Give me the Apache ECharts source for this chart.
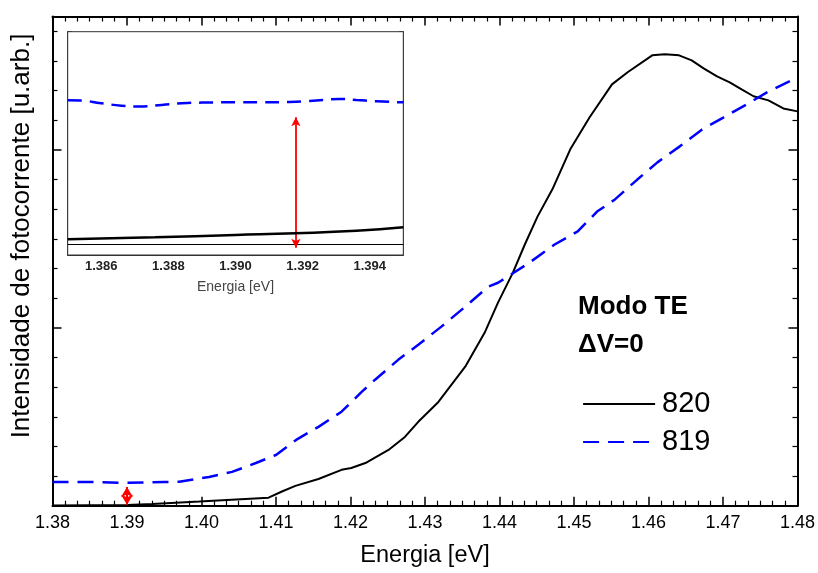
<!DOCTYPE html>
<html><head><meta charset="utf-8">
<script src="https://cdn.jsdelivr.net/npm/echarts@6/dist/echarts.min.js"></script>
<style>html,body{margin:0;padding:0;background:#fff}#c{width:818px;height:573px}</style>
</head><body><div id="c"></div>
<script>
const FONT = '"Liberation Sans", Arial, Helvetica, sans-serif';

// ---- main plot tick labels ----
const xTickLabels = ['1.38','1.39','1.40','1.41','1.42','1.43','1.44','1.45','1.46','1.47','1.48'];

// ---- sample 820 (solid black) ----
const energy820 = [1.380,1.390,1.3934,1.3997,1.4090,1.4108,1.4126,1.4157,1.4188,1.4201,1.4220,1.4251,1.4273,1.4291,1.4318,1.4354,1.4380,1.4398,1.4418,1.4434,1.4451,1.4471,1.4495,1.4521,1.4551,1.4572,1.4605,1.4622,1.4641,1.4658,1.4674,1.4692,1.4709,1.4725,1.4741,1.4761,1.4781,1.4800];
const signal820 = [0.01,0.02,0.06,0.14,0.27,0.48,0.67,0.90,1.21,1.27,1.44,1.88,2.32,2.83,3.50,4.69,5.83,6.85,7.86,8.81,9.75,10.67,12.02,13.10,14.21,14.62,15.19,15.23,15.19,15.02,14.75,14.48,14.28,14.04,13.81,13.67,13.40,13.30];

// ---- sample 819 (dashed blue) ----
const energy819 = [1.380,1.385,1.390,1.395,1.397,1.401,1.4041,1.4073,1.4100,1.4127,1.4157,1.4188,1.4215,1.4233,1.4264,1.4291,1.4322,1.4354,1.4385,1.4398,1.4415,1.4442,1.4474,1.4505,1.4531,1.4555,1.4585,1.4612,1.4642,1.4672,1.4701,1.4732,1.4759,1.4789,1.4800];
const signal819 = [0.80,0.80,0.77,0.80,0.81,0.97,1.14,1.44,1.71,2.22,2.66,3.17,3.84,4.25,4.92,5.43,6.04,6.71,7.39,7.52,7.79,8.23,8.81,9.25,9.92,10.33,11.00,11.58,12.12,12.69,13.10,13.54,13.94,14.31,14.45];

// ---- inset (zoom 1.385 - 1.395) ----
const insetTickLabels = ['1.386','1.388','1.390','1.392','1.394'];
const insetEnergy820 = [1.3850,1.3876,1.3900,1.3918,1.3936,1.3950];
const insetSignal820 = [1.18,1.33,1.50,1.63,1.82,2.08];
const insetEnergy819 = [1.3850,1.3854,1.3860,1.3866,1.3871,1.3878,1.3884,1.3890,1.3896,1.3902,1.3908,1.3916,1.3922,1.3926,1.3931,1.3936,1.3942,1.3950];
const insetSignal819 = [11.60,11.58,11.38,11.20,11.13,11.25,11.38,11.43,11.45,11.45,11.45,11.48,11.55,11.63,11.70,11.63,11.53,11.45];
const insetBaseline = 0.825;

// ---- arrows (data units) ----
const mainArrowE = 1.39, mainArrowFrom = 0.03, mainArrowTo = 0.63;
const insetArrowE = 1.3918, insetArrowFrom = 0.55, insetArrowTo = 10.33;

// ---- legend / annotation text ----
const legendNames = ['820','819'];
const annotTitle = 'Modo TE';
const annotSub = '\u0394V=0';

function zip(a, b) { return a.map((v, i) => [v, b[i]]); }

const chart = echarts.init(document.getElementById('c'), null, {renderer: 'canvas'});

const mainGrid = {left: 52.5, right: 16.5, top: 16.5, bottom: 67.3, show: false};
const insetGrid = {left: 67.7, right: 414.7, top: 31.7, bottom: 318, show: true,
  backgroundColor: '#fff', borderColor: '#333', borderWidth: 1, z: 5};

const axisLineMain = {show: true, onZero: false, lineStyle: {color: '#000', width: 2}};

function mainX(pos, showLabel) {
  return {
    type: 'value', gridIndex: 0, position: pos, min: 1.38, max: 1.48, interval: 0.01,
    axisLine: axisLineMain,
    axisTick: {show: true, inside: true, length: 9, lineStyle: {color: '#000', width: 1.5}},
    minorTick: {show: true, splitNumber: 6, length: 5, lineStyle: {color: '#000', width: 1.2}},
    splitLine: {show: false},
    axisLabel: {show: showLabel, margin: 8, fontSize: 18, color: '#000', fontFamily: FONT,
      formatter: v => { const i = Math.round((v - 1.38) / 0.01); return xTickLabels[i] || ''; }},
    name: showLabel ? 'Energia [eV]' : '', nameLocation: 'middle', nameGap: 38,
    nameTextStyle: {fontSize: 23.5, color: '#000', fontFamily: FONT}
  };
}
function mainY(pos) {
  return {
    type: 'value', gridIndex: 0, position: pos, min: 0, max: 16.5, interval: 6,
    axisLine: axisLineMain,
    axisTick: {show: true, inside: true, length: 9, lineStyle: {color: '#000', width: 1.5}},
    minorTick: {show: true, splitNumber: 6, length: 5, lineStyle: {color: '#000', width: 1.2}},
    splitLine: {show: false},
    axisLabel: {show: false}
  };
}

const option = {
  animation: false,
  backgroundColor: '#fff',
  grid: [mainGrid, insetGrid],
  xAxis: [
    mainX('bottom', true),
    mainX('top', false),
    {
      type: 'value', gridIndex: 1, min: 1.385, max: 1.395, interval: 0.001,
      axisLine: {show: true, onZero: false, lineStyle: {color: '#333', width: 1}},
      axisTick: {show: false}, splitLine: {show: false},
      axisLabel: {show: true, margin: 5, fontSize: 13, fontWeight: 'bold', color: '#222', fontFamily: FONT,
        formatter: v => { const k = Math.round(v * 1000); const i = (k - 1386) / 2;
          return (Number.isInteger(i) && insetTickLabels[i]) ? insetTickLabels[i] : ''; }},
      name: 'Energia [eV]', nameLocation: 'middle', nameGap: 25,
      nameTextStyle: {fontSize: 14, color: '#444', fontFamily: FONT}
    }
  ],
  yAxis: [
    mainY('left'),
    mainY('right'),
    {
      type: 'value', gridIndex: 1, position: 'left', min: 0, max: 16.75, interval: 1,
      axisLine: {show: true, onZero: false, lineStyle: {color: '#333', width: 1}},
      axisTick: {show: true, inside: true, length: 4, lineStyle: {color: '#333', width: 1}},
      splitLine: {show: false}, axisLabel: {show: false}
    },
    {
      type: 'value', gridIndex: 1, position: 'right', min: 0, max: 16.75, interval: 1,
      axisLine: {show: true, onZero: false, lineStyle: {color: '#333', width: 1}},
      axisTick: {show: true, inside: true, length: 4, lineStyle: {color: '#333', width: 1}},
      splitLine: {show: false}, axisLabel: {show: false}
    }
  ],
  legend: {
    data: legendNames, orient: 'vertical', left: 582, top: 389.5,
    itemWidth: 72, itemHeight: 14, itemGap: 9, padding: 0,
    selectedMode: false,
    itemStyle: {opacity: 0, borderWidth: 0},
    lineStyle: {width: 2.2},
    textStyle: {fontSize: 29, lineHeight: 29, color: '#000', fontFamily: FONT, padding: [0, 0, 0, 2]}
  },
  graphic: [
    {type: 'text', left: 578, top: 294, z: 10,
      style: {text: annotTitle, font: 'bold 26px ' + FONT, fill: '#000'}},
    {type: 'text', left: 578, top: 332, z: 10,
      style: {text: annotSub, font: 'bold 26px ' + FONT, fill: '#000'}},
    {type: 'text', z: 10, x: 22, y: 236, rotation: Math.PI / 2,
      style: {text: 'Intensidade de fotocorrente [u.arb.]', font: '26px ' + FONT, fill: '#000',
        align: 'center', verticalAlign: 'middle'}}
  ],
  series: [
    {
      name: '820', type: 'line', xAxisIndex: 0, yAxisIndex: 0, data: zip(energy820, signal820),
      symbol: 'none', smooth: false, color: '#000',
      lineStyle: {color: '#000', width: 2}, silent: true, z: 3
    },
    {
      name: '819', type: 'line', xAxisIndex: 0, yAxisIndex: 0, data: zip(energy819, signal819),
      symbol: 'none', smooth: false, color: '#0000ff',
      lineStyle: {color: '#0000ff', width: 2.5, type: [16, 9]}, silent: true, z: 3,
      markLine: {
        silent: true, symbol: ['arrow', 'arrow'], symbolSize: [9, 10],
        label: {show: false},
        lineStyle: {color: '#ff0000', width: 2, type: 'solid'},
        emphasis: {disabled: true},
        data: [[{coord: [mainArrowE, mainArrowFrom]}, {coord: [mainArrowE, mainArrowTo]}]]
      }
    },
    {
      name: 'inset820', type: 'line', xAxisIndex: 2, yAxisIndex: 2, data: zip(insetEnergy820, insetSignal820),
      symbol: 'none', smooth: true, color: '#000',
      lineStyle: {color: '#000', width: 2.5}, silent: true, z: 6,
      markLine: {
        silent: true, symbol: ['none', 'none'], label: {show: false},
        lineStyle: {color: '#000', width: 1.2, type: 'solid'},
        emphasis: {disabled: true},
        data: [{yAxis: insetBaseline}]
      }
    },
    {
      name: 'inset819', type: 'line', xAxisIndex: 2, yAxisIndex: 2, data: zip(insetEnergy819, insetSignal819),
      symbol: 'none', smooth: true, color: '#0000ff',
      lineStyle: {color: '#0000ff', width: 2.5, type: [14, 8]}, silent: true, z: 6,
      markLine: {
        silent: true, symbol: ['arrow', 'arrow'], symbolSize: [7, 9],
        label: {show: false},
        lineStyle: {color: '#ff0000', width: 1.8, type: 'solid'},
        emphasis: {disabled: true},
        data: [[{coord: [insetArrowE, insetArrowFrom]}, {coord: [insetArrowE, insetArrowTo]}]]
      }
    }
  ]
};
chart.setOption(option);
</script>
</body></html>
